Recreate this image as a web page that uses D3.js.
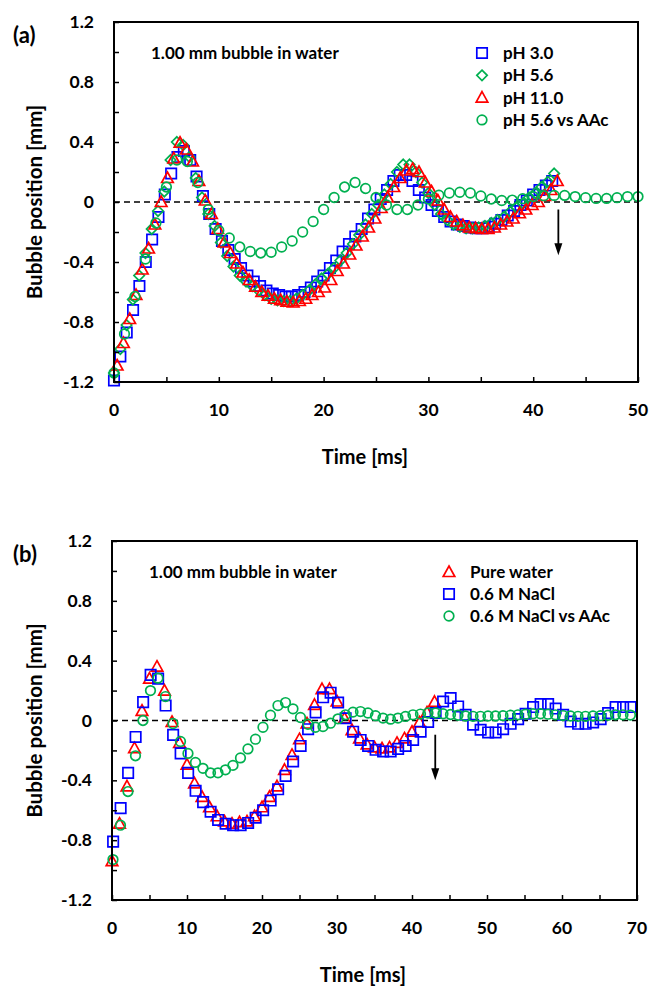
<!DOCTYPE html>
<html>
<head>
<meta charset="utf-8">
<script src="https://cdn.jsdelivr.net/npm/d3@7"></script>
<style>
  body { margin: 0; background: #fff; }
  text { font-family: Lato, "Open Sans", sans-serif; font-weight: 700; fill: #000; }
</style>
</head>
<body>
<svg id="chart" width="649" height="986"></svg>
<script>
// ---------------- data ----------------
// Bubble position [mm] per recorded frame; frame times are start + index * step [ms]

// (a) 1.00 mm bubble, effect of pH
const phAcidStart = 0.0, phAcidStep = 0.606;          // pH 3.0
const phAcidPos = [
  -1.19, -1.03, -0.87, -0.72, -0.56, -0.40, -0.25, -0.10, 0.05, 0.19,
  0.30, 0.34, 0.28, 0.17, 0.04, -0.08, -0.18, -0.26, -0.32, -0.38,
  -0.44, -0.49, -0.53, -0.56, -0.59, -0.61, -0.62, -0.63, -0.63, -0.62,
  -0.60, -0.57, -0.53, -0.49, -0.44, -0.39, -0.33, -0.28, -0.23, -0.18,
  -0.11, -0.05, 0.02, 0.08, 0.14, 0.18, 0.18, 0.14, 0.08, 0.03,
  -0.02, -0.06, -0.10, -0.13, -0.15, -0.16, -0.17, -0.175, -0.175, -0.165,
  -0.145, -0.12, -0.09, -0.06, -0.02, 0.01, 0.05, 0.08, 0.11, 0.14
];
const phNeutralStart = 0.0, phNeutralStep = 0.6;      // pH 5.6
const phNeutralPos = [
  -1.14, -0.98, -0.82, -0.65, -0.49, -0.34, -0.18, -0.06, 0.07, 0.28,
  0.40, 0.38, 0.30, 0.16, 0.03, -0.08, -0.16, -0.27, -0.36, -0.43,
  -0.49, -0.53, -0.56, -0.59, -0.62, -0.645, -0.655, -0.66, -0.66, -0.645,
  -0.62, -0.59, -0.55, -0.51, -0.48, -0.44, -0.39, -0.34, -0.28, -0.22,
  -0.15, -0.08, -0.02, 0.05, 0.12, 0.20, 0.25, 0.25, 0.20, 0.13,
  0.06, -0.02, -0.08, -0.12, -0.15, -0.165, -0.175, -0.175, -0.17, -0.16,
  -0.14, -0.12, -0.10, -0.065, -0.035, -0.01, 0.03, 0.06, 0.10, 0.135,
  0.19
];
const phBaseStart = 0.3, phBaseStep = 0.6;            // pH 11.0
const phBasePos = [
  -1.09, -0.94, -0.78, -0.62, -0.45, -0.31, -0.15, 0.00, 0.16, 0.29,
  0.395, 0.35, 0.27, 0.14, 0.01, -0.08, -0.18, -0.27, -0.34, -0.41,
  -0.47, -0.52, -0.565, -0.60, -0.625, -0.645, -0.655, -0.665, -0.67, -0.66,
  -0.645, -0.62, -0.60, -0.57, -0.52, -0.46, -0.41, -0.35, -0.29, -0.23,
  -0.17, -0.11, -0.04, 0.03, 0.10, 0.16, 0.21, 0.22, 0.20, 0.13,
  0.07, 0.01, -0.05, -0.10, -0.13, -0.155, -0.17, -0.175, -0.18, -0.18,
  -0.17, -0.15, -0.13, -0.11, -0.075, -0.05, -0.02, 0.00, 0.04, 0.08,
  0.14
];
const phAacStart = 0.0, phAacStep = 1.0;              // pH 5.6 vs AAc
const phAacPos = [
  -1.14, -0.88, -0.63, -0.38, -0.14, 0.10, 0.28, 0.27, 0.13, -0.05,
  -0.19, -0.24, -0.30, -0.33, -0.34, -0.335, -0.30, -0.26, -0.20, -0.13,
  -0.05, 0.03, 0.10, 0.13, 0.09, 0.03, -0.02, -0.05, -0.05, -0.02,
  0.02, 0.045, 0.06, 0.065, 0.06, 0.04, 0.02, 0.01, 0.013, 0.022,
  0.036, 0.042, 0.044, 0.044, 0.036, 0.029, 0.024, 0.024, 0.029, 0.036,
  0.036
];

// (b) 1.00 mm bubble, pure water vs 0.6 M NaCl
const waterStart = 0.0, waterStep = 1.0;              // Pure water
const waterPos = [
  -0.94, -0.69, -0.44, -0.185, 0.065, 0.28, 0.36, 0.20, -0.01, -0.15,
  -0.295, -0.42, -0.51, -0.58, -0.64, -0.675, -0.69, -0.68, -0.675, -0.64,
  -0.58, -0.51, -0.44, -0.33, -0.23, -0.125, -0.02, 0.105, 0.21, 0.21,
  0.127, 0.014, -0.064, -0.12, -0.16, -0.18, -0.187, -0.18, -0.15, -0.12,
  -0.075, -0.013, 0.054, 0.125
];
const naclStart = 0.15, naclStep = 1.0;               // 0.6 M NaCl
const naclPos = [
  -0.81, -0.586, -0.35, -0.11, 0.123, 0.305, 0.28, 0.10, -0.096, -0.22,
  -0.35, -0.47, -0.546, -0.61, -0.665, -0.69, -0.70, -0.70, -0.685, -0.65,
  -0.60, -0.535, -0.46, -0.37, -0.274, -0.17, -0.058, 0.054, 0.155, 0.186,
  0.12, 0.015, -0.075, -0.13, -0.17, -0.196, -0.207, -0.207, -0.19, -0.17,
  -0.13, -0.075, -0.01, 0.05, 0.127, 0.15, 0.094, 0.038, -0.028, -0.062,
  -0.08, -0.08, -0.058, -0.022, 0.009, 0.045, 0.09, 0.11, 0.11, 0.08,
  0.038, -0.007, -0.022, -0.022, -0.013, 0.009, 0.049, 0.09, 0.09, 0.09
];
const naclAacStart = 0.13, naclAacStep = 1.0;         // 0.6 M NaCl vs AAc
const naclAacPos = [
  -0.93, -0.70, -0.475, -0.236, 0.0, 0.20, 0.283, 0.16, -0.02, -0.14,
  -0.22, -0.28, -0.32, -0.35, -0.35, -0.33, -0.30, -0.25, -0.19, -0.125,
  -0.045, 0.035, 0.10, 0.12, 0.078, 0.02, -0.025, -0.045, -0.04, -0.018,
  0.011, 0.038, 0.056, 0.06, 0.05, 0.032, 0.016, 0.009, 0.016, 0.027,
  0.038, 0.043, 0.05, 0.05, 0.045, 0.04, 0.035, 0.03, 0.028, 0.028,
  0.03, 0.03, 0.032, 0.035, 0.038, 0.042, 0.045, 0.045, 0.042, 0.038,
  0.033, 0.03, 0.028, 0.028, 0.03, 0.032, 0.035, 0.038, 0.038, 0.036
];

// axis ticks
const yTickValues = [-1.2, -1.0, -0.8, -0.6, -0.4, -0.2, 0, 0.2, 0.4, 0.6, 0.8, 1.0, 1.2];
const yTickLabels = ["-1.2", "-0.8", "-0.4", "0", "0.4", "0.8", "1.2"];
const xTicksA = [0, 5, 10, 15, 20, 25, 30, 35, 40, 45, 50];
const xLabelsA = [0, 10, 20, 30, 40, 50];
const xTicksB = [0, 5, 10, 15, 20, 25, 30, 35, 40, 45, 50, 55, 60, 65, 70];
const xLabelsB = [0, 10, 20, 30, 40, 50, 60, 70];

// arrows marking when the bubble leaves the surface [ms, mm]
const arrowA = { t: 42.4, from: -0.05, to: -0.355 };
const arrowB = { t: 43.1, from: -0.095, to: -0.40 };

// ---------------- drawing ----------------
const BLUE = "#0000FF", GREEN = "#00B050", RED = "#FF0000";
const svg = d3.select("#chart");
svg.append("rect").attr("width", 649).attr("height", 986).attr("fill", "#fff");

function frames(start, step, values) {
  return values.map((v, i) => ({ t: start + i * step, v }));
}

function markerPath(shape, x, y) {
  const p = d3.path();
  if (shape === "square") {
    p.rect(x - 5.2, y - 5.2, 10.4, 10.4);
  } else if (shape === "diamond") {
    p.moveTo(x, y - 5.2); p.lineTo(x + 5.2, y); p.lineTo(x, y + 5.2); p.lineTo(x - 5.2, y); p.closePath();
  } else if (shape === "triangle") {
    p.moveTo(x, y - 6); p.lineTo(x + 5.8, y + 4.5); p.lineTo(x - 5.8, y + 4.5); p.closePath();
  } else {
    p.arc(x, y, 4.8, 0, 2 * Math.PI); p.closePath();
  }
  return p.toString();
}

function drawPanel(cfg) {
  const g = svg.append("g");
  const x = d3.scaleLinear().domain(cfg.xDomain).range([cfg.left, cfg.right]);
  const y = d3.scaleLinear().domain([-1.2, 1.2]).range([cfg.bottom, cfg.top]);

  // zero reference line
  g.append("line")
    .attr("x1", cfg.left).attr("x2", cfg.right)
    .attr("y1", y(0)).attr("y2", y(0))
    .attr("stroke", "#000").attr("stroke-width", 1.4)
    .attr("stroke-dasharray", "6,4");

  // series markers
  cfg.series.forEach(s => {
    g.append("g").selectAll("path")
      .data(frames(s.start, s.step, s.values))
      .join("path")
      .attr("d", d => markerPath(s.shape, x(d.t), y(d.v)))
      .attr("fill", "none")
      .attr("stroke", s.color)
      .attr("stroke-width", 1.7);
  });

  // arrow
  const ax = x(cfg.arrow.t), ay1 = y(cfg.arrow.from), ay2 = y(cfg.arrow.to);
  g.append("line").attr("x1", ax).attr("x2", ax).attr("y1", ay1).attr("y2", ay2 - 10)
    .attr("stroke", "#000").attr("stroke-width", 1.8);
  g.append("path")
    .attr("d", `M${ax - 4},${ay2 - 12} L${ax + 4},${ay2 - 12} L${ax},${ay2} Z`)
    .attr("fill", "#000");

  // axes with inward ticks
  const yAxis = d3.axisLeft(y).tickValues(yTickValues).tickSize(-5).tickFormat("");
  const xAxis = d3.axisBottom(x).tickValues(cfg.xTicks).tickSize(-5).tickFormat("");
  const ya = g.append("g").attr("transform", `translate(${cfg.left},0)`).call(yAxis);
  const xa = g.append("g").attr("transform", `translate(0,${cfg.bottom})`).call(xAxis);
  [ya, xa].forEach(a => {
    a.select(".domain").remove();
    a.selectAll(".tick line").attr("stroke", "#000").attr("stroke-width", 1.5);
  });

  // frame
  g.append("rect")
    .attr("x", cfg.left).attr("y", cfg.top)
    .attr("width", cfg.right - cfg.left).attr("height", cfg.bottom - cfg.top)
    .attr("fill", "none").attr("stroke", "#000").attr("stroke-width", 2);

  // tick labels
  g.selectAll(".ylab").data(yTickLabels).join("text")
    .attr("x", cfg.left - 20).attr("y", d => y(+d)).attr("dy", "0.35em")
    .attr("text-anchor", "end").attr("font-size", 17.5).text(d => d);
  g.selectAll(".xlab").data(cfg.xLabels).join("text")
    .attr("x", d => x(d)).attr("y", cfg.bottom + 28).attr("dy", "0.35em")
    .attr("text-anchor", "middle").attr("font-size", 17.5).text(d => d);

  // axis titles
  g.append("text")
    .attr("x", cfg.left + 251).attr("y", cfg.bottom + 75).attr("dy", "0.35em")
    .attr("text-anchor", "middle").attr("font-size", 20).text("Time [ms]");
  g.append("text")
    .attr("transform", `translate(35,${(cfg.top + cfg.bottom) / 2}) rotate(-90)`)
    .attr("dy", "0.35em")
    .attr("text-anchor", "middle").attr("font-size", 20.5).text("Bubble position [mm]");

  // panel letter
  g.append("text").attr("x", 13).attr("y", cfg.top + 13).attr("dy", "0.35em")
    .attr("font-size", 22).text(cfg.letter);

  // annotation
  g.append("text").attr("x", cfg.left + 37).attr("y", cfg.top + 31).attr("dy", "0.35em")
    .attr("font-size", 17).text("1.00 mm bubble in water");

  // legend
  cfg.legendOrder.forEach((s, i) => {
    const ly = cfg.top + 31 + i * cfg.legendGap;
    g.append("path").attr("d", markerPath(s.shape, cfg.legendX, ly))
      .attr("fill", "none").attr("stroke", s.color).attr("stroke-width", 1.7);
    g.append("text").attr("x", cfg.legendX + 21).attr("y", ly).attr("dy", "0.35em")
      .attr("font-size", 17).text(s.name);
  });
}

const sPh30 = { name: "pH 3.0", shape: "square", color: BLUE, start: phAcidStart, step: phAcidStep, values: phAcidPos };
const sPh56 = { name: "pH 5.6", shape: "diamond", color: GREEN, start: phNeutralStart, step: phNeutralStep, values: phNeutralPos };
const sPh11 = { name: "pH 11.0", shape: "triangle", color: RED, start: phBaseStart, step: phBaseStep, values: phBasePos };
const sPhAac = { name: "pH 5.6 vs AAc", shape: "circle", color: GREEN, start: phAacStart, step: phAacStep, values: phAacPos };

drawPanel({
  letter: "(a)", xDomain: [0, 50], left: 114, right: 638, top: 22, bottom: 382,
  xTicks: xTicksA, xLabels: xLabelsA, arrow: arrowA,
  series: [sPh30, sPh56, sPh11, sPhAac],
  legendOrder: [sPh30, sPh56, sPh11, sPhAac], legendX: 482, legendGap: 22.3
});

const sWater = { name: "Pure water", shape: "triangle", color: RED, start: waterStart, step: waterStep, values: waterPos };
const sNacl = { name: "0.6 M NaCl", shape: "square", color: BLUE, start: naclStart, step: naclStep, values: naclPos };
const sNaclAac = { name: "0.6 M NaCl vs AAc", shape: "circle", color: GREEN, start: naclAacStart, step: naclAacStep, values: naclAacPos };

drawPanel({
  letter: "(b)", xDomain: [0, 70], left: 112, right: 637, top: 541, bottom: 900,
  xTicks: xTicksB, xLabels: xLabelsB, arrow: arrowB,
  series: [sWater, sNacl, sNaclAac],
  legendOrder: [sWater, sNacl, sNaclAac], legendX: 449, legendGap: 22
});
</script>
</body>
</html>
